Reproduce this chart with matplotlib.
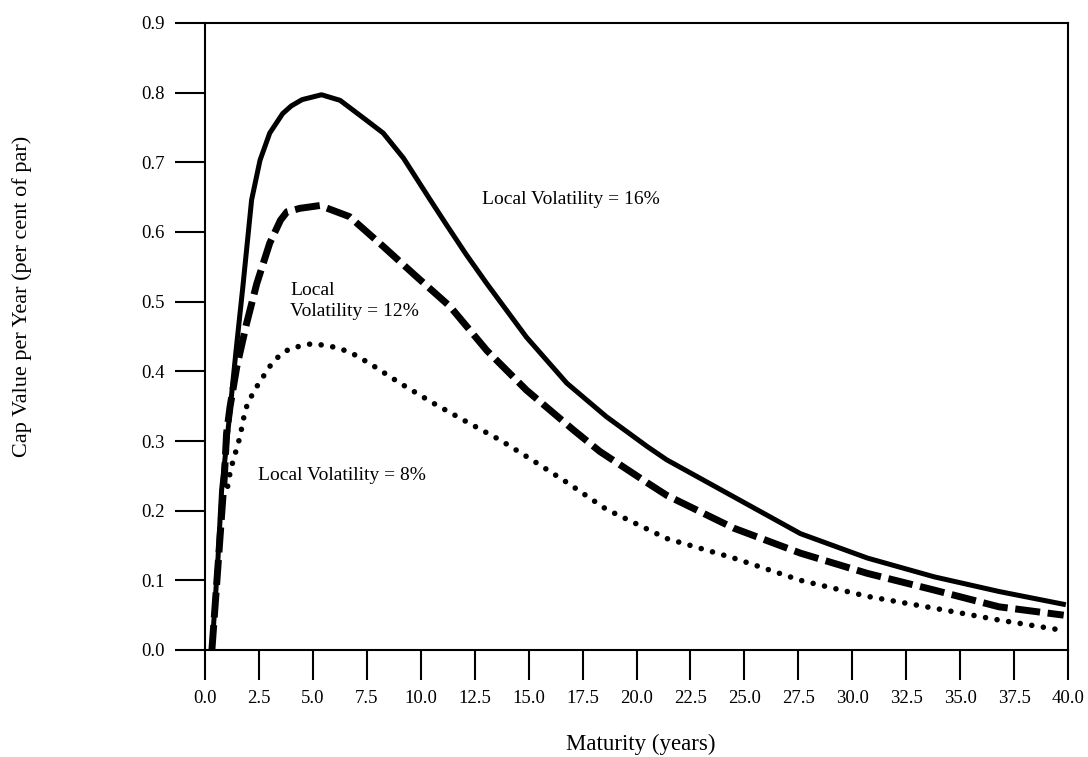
import numpy as np
import matplotlib
matplotlib.use("Agg")
import matplotlib.pyplot as plt

plt.rcParams['font.family'] = ['Liberation Serif', 'DejaVu Serif']

# Local volatility = 16% (solid)
t16 = [0.32, 0.6, 0.77, 1.05, 1.44, 1.75, 2.16, 2.55, 3.0, 3.6, 4.0, 4.5, 5.4, 6.26,
       7.5, 8.26, 9.2, 10.4, 11.2, 12.1, 13.06, 14.9, 16.77, 18.6, 20.5, 21.4, 24.5,
       27.6, 30.7, 33.8, 36.8, 39.9]
v16 = [0.0, 0.13, 0.23, 0.31, 0.43, 0.52, 0.646, 0.703, 0.742, 0.770, 0.781, 0.790,
       0.797, 0.789, 0.760, 0.742, 0.706, 0.648, 0.610, 0.568, 0.526, 0.449, 0.383,
       0.335, 0.292, 0.273, 0.220, 0.167, 0.132, 0.105, 0.084, 0.065]

# Local volatility = 12% (dashed)
t12 = [0.32, 0.6, 0.9, 1.0, 1.16, 1.47, 1.93, 2.4, 3.0, 3.5, 3.8, 4.4, 5.33, 6.7,
       8.27, 9.8, 11.36, 13.06, 14.9, 17.07, 18.3, 20.5, 21.4, 24.5, 27.6, 30.7,
       33.8, 36.8, 39.8]
v12 = [0.0, 0.12, 0.25, 0.311, 0.349, 0.406, 0.469, 0.526, 0.584, 0.617, 0.629,
       0.634, 0.638, 0.622, 0.579, 0.536, 0.493, 0.430, 0.373, 0.316, 0.285, 0.240,
       0.222, 0.175, 0.139, 0.110, 0.086, 0.062, 0.050]

# Local volatility = 8% (dotted)
t08 = [1.05, 1.16, 1.31, 1.47, 1.62, 1.85, 2.0, 2.4, 3.0, 3.4, 3.94, 5.0,
       5.95, 6.7, 7.65, 9.04, 10.6, 12.1, 13.7, 15.2, 16.8, 18.6, 21.4, 24.5, 27.6,
       30.7, 33.8, 36.8, 39.8]
v08 = [0.235, 0.254, 0.273, 0.289, 0.306, 0.342, 0.356, 0.378, 0.407,
       0.421, 0.433, 0.440, 0.435, 0.428, 0.411, 0.383, 0.354, 0.328, 0.301, 0.272,
       0.240, 0.202, 0.160, 0.132, 0.100, 0.077, 0.060, 0.043, 0.028]

xticks = np.arange(0, 40.1, 2.5)
yticks = np.arange(0, 0.91, 0.1)

fig = plt.figure(figsize=(10.88, 7.57), dpi=100)
ax = fig.add_axes([205/1088, 1 - 650/757, (1068 - 205)/1088, (650 - 23)/757])

ax.plot(t16, v16, color='black', lw=3.6, solid_capstyle='butt', solid_joinstyle='round')
ax.plot(t12, v12, color='black', lw=5, linestyle=(0, (3.6, 1.1)), dash_capstyle='butt')
ax.plot(t08, v08, color='black', lw=4, linestyle=(0, (0.01, 2.1)), dash_capstyle='round')

ax.text(12.84, 0.647, 'Local Volatility = 16%', fontsize=14, ha='left', va='center')
ax.text(3.94, 0.501, 'Local\nVolatility = 12%', fontsize=14, ha='left', va='center',
        linespacing=1.28)
ax.text(2.46, 0.251, 'Local Volatility = 8%', fontsize=14, ha='left', va='center')

ax.set_xlim(0, 40)
ax.set_ylim(0, 0.9)
ax.set_xticks(xticks)
ax.set_xticklabels(['%.1f' % x for x in xticks])
ax.set_yticks(yticks)
ax.set_yticklabels(['%.1f' % y for y in yticks])
ax.tick_params(direction='out', length=21.6, width=1.5, labelsize=13.5, colors='black')
ax.tick_params(axis='x', pad=7)
ax.tick_params(axis='y', pad=7.5)
for s in ax.spines.values():
    s.set_linewidth(1.5)

fig.text(22/1088, 1 - 296/757, 'Cap Value per Year (per cent of par)', rotation=90,
         ha='center', va='center', fontsize=16)
fig.text(641/1088, 1 - 750/757, 'Maturity (years)', ha='center', va='baseline', fontsize=16.5)

fig.savefig('out.png', dpi=100)
